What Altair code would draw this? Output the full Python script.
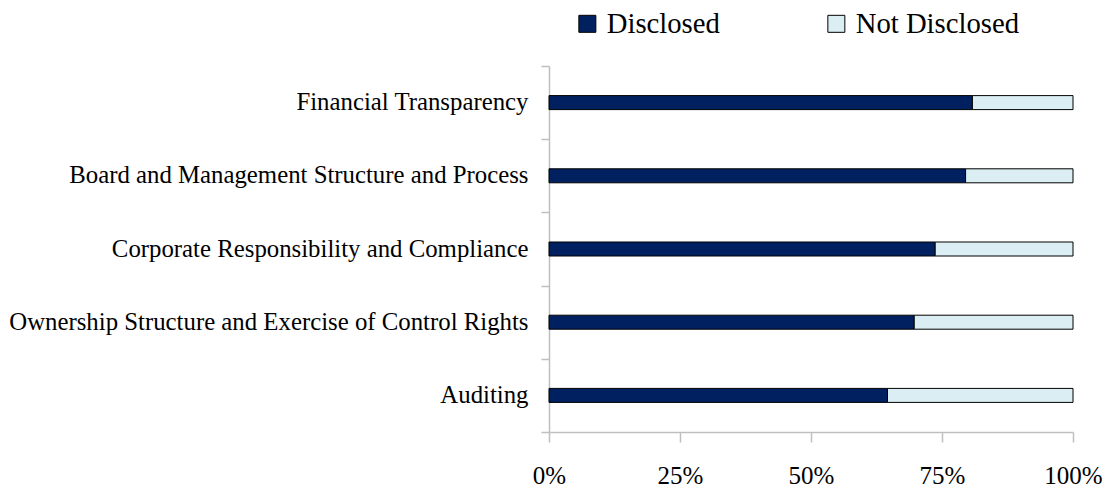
import altair as alt
import pandas as pd

categories = [
    "Financial Transparency",
    "Board and Management Structure and Process",
    "Corporate Responsibility and Compliance",
    "Ownership Structure and Exercise of Control Rights",
    "Auditing",
]
disclosed = [80.8, 79.5, 73.7, 69.7, 64.6]
not_disclosed = [19.2, 20.5, 26.3, 30.3, 35.4]
series = ["Disclosed", "Not Disclosed"]
colors = ["#002060", "#DAEEF3"]
x_ticks = [0, 25, 50, 75, 100]

rows = []
for c, d, n in zip(categories, disclosed, not_disclosed):
    rows.append({"category": c, "series": series[0], "value": d, "order": 0})
    rows.append({"category": c, "series": series[1], "value": n, "order": 1})
df = pd.DataFrame(rows)

FONT = "Liberation Serif"

chart = alt.Chart(df).mark_bar(size=14, stroke="black", strokeWidth=1).encode(
    x=alt.X("value:Q", stack="zero",
            scale=alt.Scale(domain=[0, 100], nice=False),
            axis=alt.Axis(values=x_ticks, labelExpr="datum.value + '%'", title=None,
                          grid=False, domainColor="#BFBFBF", tickColor="#BFBFBF",
                          tickSize=10, labelPadding=21, labelFlush=False,
                          labelFont=FONT, labelFontSize=25,
                          labelColor="black", domainWidth=1.5, tickWidth=1.5)),
    y=alt.Y("category:N", sort=categories,
            scale=alt.Scale(paddingInner=0, paddingOuter=0),
            axis=alt.Axis(title=None, tickBand="extent", domainColor="#BFBFBF",
                          tickColor="#BFBFBF", tickSize=8, labelPadding=13,
                          labelFont=FONT, labelFontSize=24.8, labelColor="black",
                          labelLimit=700, domainWidth=1.5, tickWidth=1.5)),
    color=alt.Color("series:N", scale=alt.Scale(domain=series, range=colors),
                    legend=alt.Legend(title=None, orient="none", direction="horizontal",
                                      legendX=24, legendY=-57, symbolType="square",
                                      symbolSize=289, symbolStrokeColor="black",
                                      symbolStrokeWidth=1, labelFont=FONT,
                                      labelFontSize=28.7, labelColor="black",
                                      labelLimit=400,
                                      labelOffset=5, columnPadding=102)),
    order=alt.Order("order:Q"),
).properties(
    width=524, height=366,
    autosize=alt.AutoSizeParams(type="none"),
    padding={"left": 549, "top": 66, "right": 32, "bottom": 61},
).configure_view(stroke=None)

chart.save("out.html", embed_options={"renderer": "svg", "actions": False})
